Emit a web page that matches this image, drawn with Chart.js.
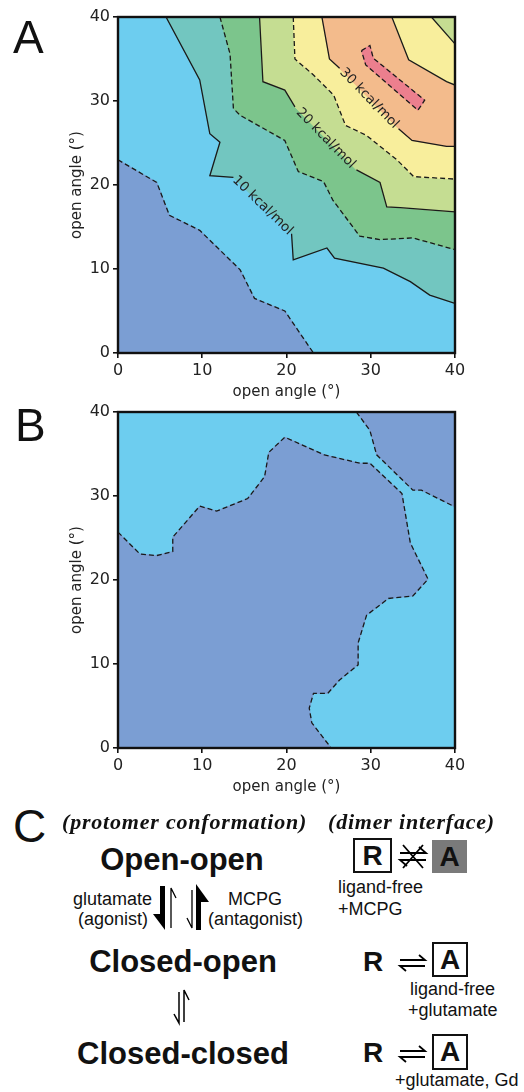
<!DOCTYPE html>
<html>
<head>
<meta charset="utf-8">
<script src="https://cdn.jsdelivr.net/npm/chart.js@4.4.1/dist/chart.umd.min.js"></script>
<style>
  body { margin: 0; background: #fff; width: 524px; height: 1092px; position: relative; overflow: hidden;
         font-family: "Liberation Sans", Arial, sans-serif; color: #111; }
  canvas { position: absolute; left: 0; }
  .t { position: absolute; line-height: 1; white-space: nowrap; }
  .panel { font-size: 46px; font-weight: 400; }
  .head { font-family: "Liberation Serif", serif; font-weight: bold; font-style: italic; font-size: 22px; letter-spacing: 0.8px; }
  .state { font-weight: bold; font-size: 31px; transform: translateX(-50%); }
  .small { font-size: 18px; }
  .big { font-weight: bold; font-size: 28px; }
  .box { position: absolute; box-sizing: border-box; border: 2px solid #111; display: flex;
         align-items: center; justify-content: center; font-weight: bold; font-size: 28px; line-height: 1; }
  svg { position: absolute; overflow: visible; }
</style>
</head>
<body>
<canvas id="chartA" width="524" height="405" style="top:0"></canvas>
<canvas id="chartB" width="524" height="405" style="top:395px"></canvas>

<div class="t panel" style="left:13px;top:14px">A</div>
<div class="t panel" style="left:15px;top:402px">B</div>
<div class="t panel" style="left:13px;top:803px">C</div>

<div class="t head" style="left:62px;top:811px">(protomer conformation)</div>
<div class="t head" style="left:328px;top:811px">(dimer interface)</div>

<div class="t state" style="left:182px;top:844px">Open-open</div>
<div class="t state" style="left:183px;top:946px">Closed-open</div>
<div class="t state" style="left:183px;top:1038px">Closed-closed</div>

<div class="t small" style="right:372px;top:890px">glutamate</div>
<div class="t small" style="right:376px;top:910px">(agonist)</div>
<div class="t small" style="left:228px;top:890px">MCPG</div>
<div class="t small" style="left:208px;top:910px">(antagonist)</div>

<!-- vertical harpoons, open-open <-> closed-open -->
<svg style="left:150px;top:884px" width="66" height="48">
  <rect x="10" y="2" width="5" height="32" fill="#000"/>
  <polygon points="3,30 15,30 15,46" fill="#000"/>
  <path d="M21 44V4L26 14" stroke="#000" stroke-width="1.3" fill="none"/>
  <path d="M42 6V44L37 34" stroke="#000" stroke-width="1.3" fill="none"/>
  <rect x="46" y="14" width="5" height="32" fill="#000"/>
  <polygon points="46,0 46,18 59,18" fill="#000"/>
</svg>
<!-- vertical harpoons, closed-open <-> closed-closed -->
<svg style="left:170px;top:988px" width="24" height="38">
  <path d="M9 4V35L4 26" stroke="#000" stroke-width="1.5" fill="none"/>
  <path d="M14 34V2L19 12" stroke="#000" stroke-width="1.5" fill="none"/>
</svg>

<!-- dimer interface column -->
<div class="box" style="left:353px;top:838px;width:39px;height:35px">R</div>
<svg style="left:397px;top:842px" width="32" height="30">
  <g stroke="#000" stroke-width="1.8" fill="none">
    <path d="M3 11H29L22 5"/>
    <path d="M29 18H3L10 24"/>
    <path d="M6 3L26 26M6 26L26 3"/>
  </g>
</svg>
<div class="box" style="left:432px;top:840px;width:35px;height:33px;background:#7a7a7a;border-color:#7a7a7a">A</div>
<div class="t small" style="left:338px;top:878px">ligand-free</div>
<div class="t small" style="left:338px;top:900px">+MCPG</div>

<div class="t big" style="left:363px;top:948px">R</div>
<svg style="left:398px;top:954px" width="28" height="18">
  <g stroke="#000" stroke-width="1.8" fill="none">
    <path d="M2 6H27L21 1"/>
    <path d="M27 12H2L8 17"/>
  </g>
</svg>
<div class="box" style="left:432px;top:942px;width:36px;height:35px">A</div>
<div class="t small" style="left:410px;top:980px">ligand-free</div>
<div class="t small" style="left:408px;top:1001px">+glutamate</div>

<div class="t big" style="left:363px;top:1039px">R</div>
<svg style="left:398px;top:1045px" width="28" height="18">
  <g stroke="#000" stroke-width="1.8" fill="none">
    <path d="M2 6H27L21 1"/>
    <path d="M27 12H2L8 17"/>
  </g>
</svg>
<div class="box" style="left:432px;top:1034px;width:36px;height:36px">A</div>
<div class="t small" style="left:395px;top:1071px">+glutamate, Gd</div>

<script>
// axis
const axisTicks = [0, 10, 20, 30, 40];
const axisTitle = 'open angle (°)';

// panel A energy contours, [open angle, open angle]; null = gap where the label sits
const contour5A  = [[0, 23.0], [4.6, 20.3], [6.1, 16.4], [9.7, 14.6], [14.5, 9.9], [16.2, 6.5], [19.8, 5.0], [23.2, 0]];
const contour10A = [[5.7, 40], [9.7, 32.5], [10.9, 26.1], [12.1, 25.1], [10.9, 21.1], [13.7, 20.9], null,
                    [20.6, 14.2], [20.8, 11.1], [24.8, 12.5], [25.7, 11.3], [31.5, 10.1], [34.7, 8.5], [37.0, 6.9], [40, 5.9]];
const contour15A = [[12.1, 40], [13.3, 35.6], [13.7, 29.1], [14.5, 28.3], [19.8, 25.3], [21.4, 21.6], [24.4, 20.4],
                    [25.5, 18.2], [28.7, 13.9], [31.1, 13.5], [35.0, 13.7], [40, 12.3]];
const contour20A = [[16.8, 40], [17.2, 32.3], [19.8, 31.3], [21.0, 29.3], null,
                    [28.3, 21.8], [31.1, 20.3], [31.9, 17.4], [33.5, 17.3], [40, 16.8]];
const contour25A = [[20.8, 40], [21.0, 35.0], [23.2, 33.1], [25.6, 30.7], [27.0, 27.1], [29.5, 25.9], [33.1, 23.0],
                    [35.1, 21.0], [40, 20.7]];
const contour30A = [[24.2, 40], [25.1, 35.0], [26.3, 33.9], null, [33.3, 26.7], [34.9, 25.3], [39.0, 24.6], [40, 24.6]];
const contour30bA = [[32.5, 40], [34.5, 34.9], [39.0, 32.3], [40, 31.9]];
const contour25bA = [[37.2, 40], [40, 36.8]];
const contour35A = [[28.9, 36.0], [29.9, 36.6], [30.3, 35.1], [36.4, 30.1], [35.6, 28.9], [29.4, 34.3], [28.9, 36.0]];
const contourLabelsA = ['10 kcal/mol', '20 kcal/mol', '30 kcal/mol'];

// panel B boundaries
const boundaryB  = [[0, 25.7], [2.6, 23.1], [4.55, 22.9], [6.5, 23.4], [6.5, 25.1], [9.7, 28.8], [11.7, 28.2],
                    [15.4, 29.7], [17.4, 32.3], [17.9, 35.2], [19.8, 37.0], [24.5, 34.9], [28.7, 33.9], [29.9, 33.9],
                    [33.7, 30.3], [34.7, 24.4], [36.8, 20.1], [35.0, 18.1], [32.1, 17.8], [29.5, 15.8], [28.5, 12.5],
                    [28.5, 9.9], [26.3, 8.1], [24.9, 6.5], [23.2, 6.5], [22.7, 4.75], [23.0, 3.0], [25.3, 0]];
const boundary2B = [[28.3, 40], [29.9, 37.8], [30.7, 34.9], [35.0, 30.7], [36.0, 30.7], [40, 28.7]];

const colors = {
    darkBlue: '#7b9ed3', lightBlue: '#6dcdef', teal: '#72c6c0', green: '#7cc58c',
    lightGreen: '#c5dd92', yellow: '#f8ee9c', orange: '#f3bb8c', pink: '#ec7f8e'
};

const toXY = pts => pts.filter(p => p).map(p => ({ x: p[0], y: p[1] }));
function toLine(pts) {
    const out = [];
    pts.forEach((p, i) => {
        if (p) out.push({ x: p[0], y: p[1] });
        else out.push({ x: (pts[i - 1][0] + pts[i + 1][0]) / 2, y: null });
    });
    return out;
}

// region = polygon made of a contour plus plot corners
function region(pts, extra, color) {
    return { data: toXY(pts.concat(extra)), color };
}

function buildChart(id, regions, lines, labels) {
    const datasets = [];
    const n = regions.length + lines.length;
    regions.forEach((r, i) => {
        datasets.push({
            data: r.data, fill: 'shape', backgroundColor: r.color, borderColor: r.color,
            borderWidth: 1, pointRadius: 0, order: n - i
        });
    });
    lines.forEach((l, i) => {
        datasets.push({
            data: toLine(l.pts), fill: false, borderColor: '#1a1a1a', borderWidth: 1.3,
            borderDash: l.dash ? [5, 3] : [], pointRadius: 0, spanGaps: false, order: 0
        });
    });

    const tickFont = { family: 'DejaVu Sans', size: 16 };
    const titleFont = { family: 'DejaVu Sans', size: 15 };
    const gridOpts = { drawOnChartArea: false, drawTicks: true, tickLength: 5, color: '#111', lineWidth: 1.6 };

    const framePlugin = {
        id: 'frame',
        afterDatasetsDraw(chart) {
            const { ctx, chartArea: a, scales } = chart;
            ctx.save();
            ctx.strokeStyle = '#111';
            ctx.lineWidth = 2.4;
            ctx.strokeRect(a.left, a.top, a.right - a.left, a.bottom - a.top);
            // contour labels in the gaps of their lines
            ctx.fillStyle = '#222';
            ctx.font = '13.5px "DejaVu Sans"';
            ctx.textAlign = 'center';
            ctx.textBaseline = 'middle';
            labels.forEach(lb => {
                const pts = lb.pts;
                const g = pts.indexOf(null);
                const p0 = pts[g - 1], p1 = pts[g + 1];
                const x0 = scales.x.getPixelForValue(p0[0]), y0 = scales.y.getPixelForValue(p0[1]);
                const x1 = scales.x.getPixelForValue(p1[0]), y1 = scales.y.getPixelForValue(p1[1]);
                ctx.save();
                ctx.translate((x0 + x1) / 2, (y0 + y1) / 2);
                ctx.rotate(Math.atan2(y1 - y0, x1 - x0));
                ctx.fillText(lb.text, 0, 0);
                ctx.restore();
            });
            ctx.restore();
        }
    };

    return new Chart(document.getElementById(id), {
        type: 'line',
        data: { datasets },
        options: {
            responsive: false,
            animation: false,
            devicePixelRatio: 1,
            layout: { padding: { left: 60, top: 17, right: 69, bottom: 0 } },
            plugins: { legend: { display: false }, tooltip: { enabled: false } },
            scales: {
                x: {
                    type: 'linear', min: 0, max: 40,
                    afterBuildTicks: s => { s.ticks = axisTicks.map(v => ({ value: v })); },
                    afterFit: s => { s.height = 52; },
                    ticks: { font: tickFont, color: '#222', padding: 3, maxRotation: 0 },
                    grid: gridOpts,
                    border: { display: false },
                    title: { display: true, text: axisTitle, font: titleFont, color: '#222', padding: { top: 0, bottom: 4 } }
                },
                y: {
                    type: 'linear', min: 0, max: 40,
                    afterBuildTicks: s => { s.ticks = axisTicks.map(v => ({ value: v })); },
                    afterFit: s => { s.width = 58; },
                    ticks: { font: tickFont, color: '#222', padding: 3 },
                    grid: gridOpts,
                    border: { display: false },
                    title: { display: true, text: axisTitle, font: titleFont, color: '#222', padding: { top: 8, bottom: 0 } }
                }
            }
        },
        plugins: [framePlugin]
    });
}

const cornerTR = [[40, 40]];
const fullPlot = [[0, 0], [40, 0], [40, 40], [0, 40]];

buildChart('chartA',
    [
        { data: toXY(fullPlot), color: colors.lightBlue },
        region(contour5A, [[0, 0]], colors.darkBlue),
        region(contour10A, cornerTR, colors.teal),
        region(contour15A, cornerTR, colors.green),
        region(contour20A, cornerTR, colors.lightGreen),
        region(contour25A, cornerTR, colors.yellow),
        region(contour30A, cornerTR, colors.orange),
        region(contour30bA, cornerTR, colors.yellow),
        region(contour25bA, cornerTR, colors.lightGreen),
        region(contour35A, [], colors.pink)
    ],
    [
        { pts: contour5A, dash: true },
        { pts: contour10A, dash: false },
        { pts: contour15A, dash: true },
        { pts: contour20A, dash: false },
        { pts: contour25A, dash: true },
        { pts: contour30A, dash: false },
        { pts: contour30bA, dash: false },
        { pts: contour25bA, dash: false },
        { pts: contour35A, dash: true }
    ],
    [
        { pts: contour10A, text: contourLabelsA[0] },
        { pts: contour20A, text: contourLabelsA[1] },
        { pts: contour30A, text: contourLabelsA[2] }
    ]
);

buildChart('chartB',
    [
        { data: toXY(fullPlot), color: colors.lightBlue },
        region(boundaryB, [[0, 0]], colors.darkBlue),
        region(boundary2B, cornerTR, colors.darkBlue)
    ],
    [
        { pts: boundaryB, dash: true },
        { pts: boundary2B, dash: true }
    ],
    []
);
</script>
</body>
</html>
